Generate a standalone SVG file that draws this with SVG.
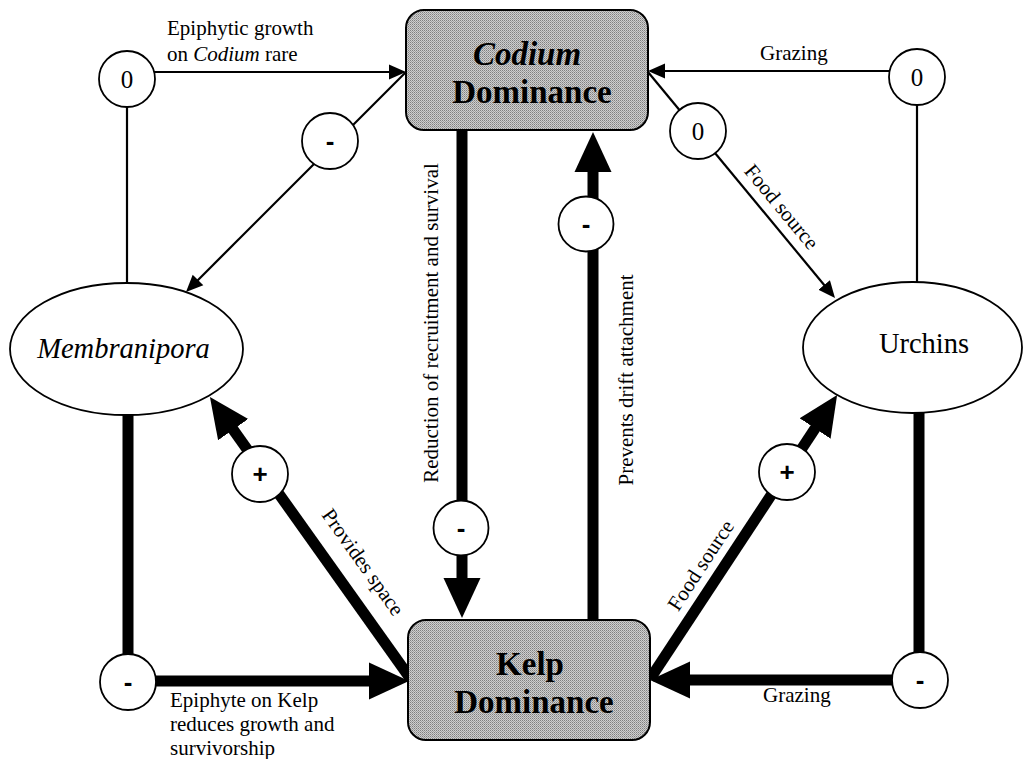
<svg xmlns="http://www.w3.org/2000/svg" width="1023" height="759" viewBox="0 0 1023 759">
<style>
.thin{stroke:#000;stroke-width:2.2;fill:none}
.thick{stroke:#000;stroke-width:11;fill:none}
.box{stroke:#000;stroke-width:2;fill:url(#stip)}
.ell{stroke:#000;stroke-width:1.8;fill:#fff}
.sign{stroke:#000;stroke-width:1.8;fill:#fff}
.lbl{font-family:"Liberation Serif","Times New Roman",serif;font-size:21px;fill:#000}
.big{font-family:"Liberation Serif","Times New Roman",serif;font-size:33px;font-weight:bold;fill:#000;text-anchor:middle}
.node{font-family:"Liberation Serif","Times New Roman",serif;font-size:28.5px;fill:#000;text-anchor:middle}
.zero{font-family:"Liberation Serif","Times New Roman",serif;font-size:25px;fill:#000;text-anchor:middle}
.op{font-family:"Liberation Sans",Arial,sans-serif;font-size:26px;font-weight:bold;fill:#000;text-anchor:middle}
</style>
<defs>
<pattern id="stip" width="2" height="2" patternUnits="userSpaceOnUse">
<rect width="2" height="2" fill="#cfcfcf"/>
<rect width="1" height="1" fill="#808080"/>
<rect x="1" y="1" width="1" height="1" fill="#a0a0a0"/>
</pattern>
<marker id="ahThin" markerUnits="userSpaceOnUse" markerWidth="18" markerHeight="16" viewBox="0 -8 18 16" refX="1" refY="0" orient="auto"><path d="M0,-7.5 L17,0 L0,7.5 z" fill="#000"/></marker>
<marker id="ahThick" markerUnits="userSpaceOnUse" markerWidth="42" markerHeight="40" viewBox="0 -20 42 40" refX="2" refY="0" orient="auto"><path d="M0,-18.5 L40,0 L0,18.5 z" fill="#000"/></marker>
</defs>
<rect width="1023" height="759" fill="#fff"/>

<g id="connectors">
<line class="thin" x1="154" y1="72" x2="390" y2="72" marker-end="url(#ahThin)"/>
<line class="thin" x1="127" y1="107" x2="127" y2="283"/>
<line class="thin" x1="406" y1="72" x2="197.3" y2="280.7" marker-end="url(#ahThin)"/>
<line class="thin" x1="890" y1="71" x2="664" y2="71" marker-end="url(#ahThin)"/>
<line class="thin" x1="648" y1="72" x2="824.8" y2="285.7" marker-end="url(#ahThin)"/>
<line class="thin" x1="917" y1="105" x2="917" y2="282"/>
<line class="thick" x1="462" y1="130" x2="462" y2="580" marker-end="url(#ahThick)"/>
<line class="thick" x1="593" y1="620" x2="593" y2="170" marker-end="url(#ahThick)"/>
<line class="thick" x1="128" y1="414" x2="128" y2="656"/>
<line class="thick" x1="150" y1="681" x2="371" y2="681" marker-end="url(#ahThick)"/>
<line class="thick" x1="410" y1="678" x2="232" y2="428" marker-end="url(#ahThick)"/>
<line class="thick" x1="650" y1="679" x2="816.2" y2="426.8" marker-end="url(#ahThick)"/>
<line class="thick" x1="919" y1="413" x2="919" y2="654"/>
<line class="thick" x1="893" y1="680" x2="688" y2="680" marker-end="url(#ahThick)"/>
</g>

<g id="labels">
<text class="lbl" x="167" y="35">Epiphytic growth</text>
<text class="lbl" x="167" y="61">on <tspan font-style="italic">Codium</tspan> rare</text>
<text class="lbl" x="760" y="60">Grazing</text>
<text class="lbl" text-anchor="middle" transform="translate(776.2,211.2) rotate(50.4)">Food source</text>
<text class="lbl" text-anchor="middle" font-size="21.5" transform="translate(438,323) rotate(-90)">Reduction of recruitment and survival</text>
<text class="lbl" text-anchor="middle" font-size="21.5" transform="translate(633,380) rotate(-90)">Prevents drift attachment</text>
<text class="lbl" text-anchor="middle" transform="translate(357.4,566.2) rotate(54.6)">Provides space</text>
<text class="lbl" text-anchor="middle" transform="translate(706.6,569) rotate(-56.7)">Food source</text>
<text class="lbl" x="170" y="707">Epiphyte on Kelp</text>
<text class="lbl" x="170" y="731">reduces growth and</text>
<text class="lbl" x="170" y="755">survivorship</text>
<text class="lbl" x="763" y="702">Grazing</text>
</g>

<g id="codium">
<rect class="box" x="406" y="10" width="242" height="120" rx="18"/>
<text class="big" x="527" y="65" font-style="italic">Codium</text>
<text class="big" x="532" y="103">Dominance</text>
</g>
<g id="kelp">
<rect class="box" x="408" y="620" width="242" height="120" rx="18"/>
<text class="big" x="530" y="675">Kelp</text>
<text class="big" x="534" y="713">Dominance</text>
</g>
<g id="membranipora">
<ellipse class="ell" cx="126.5" cy="349" rx="116.5" ry="66"/>
<text class="node" x="123.5" y="358" font-style="italic">Membranipora</text>
</g>
<g id="urchins">
<ellipse class="ell" cx="912.5" cy="347.5" rx="109.5" ry="65.5"/>
<text class="node" x="924" y="353">Urchins</text>
</g>

<g id="sign-tl"><circle class="sign" cx="127" cy="79" r="28"/><text class="zero" x="127" y="88">0</text></g>
<g id="sign-cm"><circle class="sign" cx="330" cy="141" r="28"/><text class="op" x="330" y="150">-</text></g>
<g id="sign-tr"><circle class="sign" cx="917" cy="77" r="28"/><text class="zero" x="917" y="86">0</text></g>
<g id="sign-cu"><circle class="sign" cx="698" cy="131" r="28"/><text class="zero" x="698" y="140">0</text></g>
<g id="sign-down"><circle class="sign" cx="461" cy="528" r="27.5"/><text class="op" x="461" y="537">-</text></g>
<g id="sign-up"><circle class="sign" cx="586" cy="224" r="27.5"/><text class="op" x="586" y="233">-</text></g>
<g id="sign-lp"><circle class="sign" cx="260" cy="474" r="28"/><text class="op" x="260" y="483">+</text></g>
<g id="sign-rp"><circle class="sign" cx="787" cy="472" r="28"/><text class="op" x="787" y="481">+</text></g>
<g id="sign-bl"><circle class="sign" cx="128" cy="682" r="28"/><text class="op" x="128" y="691">-</text></g>
<g id="sign-br"><circle class="sign" cx="920" cy="680" r="28"/><text class="op" x="920" y="689">-</text></g>
</svg>
